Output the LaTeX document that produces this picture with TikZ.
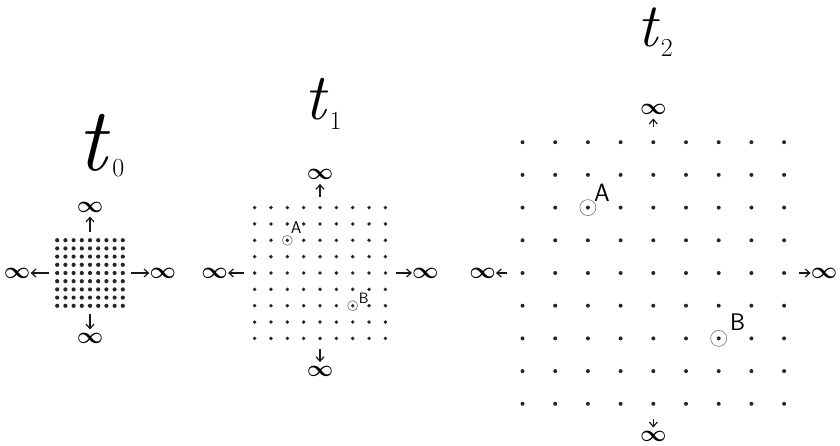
\documentclass[tikz,border=0pt]{standalone}
\usepackage{fix-cm}
\usepackage{fontspec}
\usetikzlibrary{arrows.meta}
\tikzset{%
  griddot/.style={fill=black!85},
  timelabel/.style={inner sep=0pt},
  inf/.style={inner xsep=0pt, inner ysep=4pt, font=\fontsize{23}{23}\selectfont\boldmath},
  toinf/.style={-{Straight Barb[length=4.5pt,width=8pt]}, line width=1.2pt, black!90},
  ring/.style={circle, draw=black!55, line width=0.6pt, inner sep=0pt},
  ptlabel/.style={inner sep=0pt},
}

\begin{document}
\begin{tikzpicture}[x=1pt, y=-1pt]
\useasboundingbox (0,0) rectangle (840,446);

% three 9x9 grids, spacing doubles from t0 to t2
\foreach \p/\cx/\d/\r/\lx/\ly/\fs/\ss/\rs in {0/90/8.2/2.1/101/150/90/26/9, 1/320/16.35/1.9/323/104/66/26/0, 2/653.3/32.7/2.0/655/32/62/26/0}{
  \pgfmathsetmacro{\h}{4*\d}
  \pgfmathsetmacro{\ga}{\h+6+0.07*\h}
  % time label
  \node[timelabel, font=\fontsize{\fs}{\fs}\selectfont] (lab\p) at (\lx,\ly)
    {\itshape t\kern0.06em\raisebox{-0.16em}{\raisebox{\rs pt}{\upshape\fontsize{\ss}{\ss}\selectfont\p}}};
  % points
  \foreach \i in {-4,...,4}
    \foreach \j in {-4,...,4}
      \fill[griddot] (\cx+\i*\d, 273+\j*\d) circle (\r);
  % infinity in all four directions
  \node[inf] (infN\p) at (\cx, 273-\h-33) {$\infty$};
  \node[inf] (infS\p) at (\cx, 273+\h+33) {$\infty$};
  \node[inf] (infW\p) at (\cx-\h-40, 273) {$\infty$};
  \node[inf] (infE\p) at (\cx+\h+40, 273) {$\infty$};
  \coordinate (aN\p) at (\cx, 273-\ga);
  \coordinate (aS\p) at (\cx, 273+\ga);
  \coordinate (aW\p) at (\cx-\ga, 273);
  \coordinate (aE\p) at (\cx+\ga, 273);
  \draw[toinf] (aN\p) -- (infN\p);
  \draw[toinf] (aS\p) -- (infS\p);
  \draw[toinf] (aW\p) -- (infW\p);
  \draw[toinf] (aE\p) -- (infE\p);
}

% the two marked points at t1
\node[ring, minimum size=10pt] (A1) at (320-2*16.35, 273-2*16.35) {};
\node[ring, minimum size=10pt] (B1) at (320+2*16.35, 273+2*16.35) {};
\node[ptlabel, font=\sffamily\fontsize{17}{17}\selectfont] (labA1) at ([shift={(9,-13)}]A1) {A};
\node[ptlabel, font=\sffamily\fontsize{15}{15}\selectfont] (labB1) at ([shift={(11,-7)}]B1) {B};

% the same points at t2
\node[ring, minimum size=16pt] (A2) at (653.3-2*32.7, 273-2*32.7) {};
\node[ring, minimum size=16pt] (B2) at (653.3+2*32.7, 273+2*32.7) {};
\node[ptlabel, font=\sffamily\fontsize{25}{25}\selectfont] (labA2) at ([shift={(14,-15)}]A2) {A};
\node[ptlabel, font=\sffamily\fontsize{24}{24}\selectfont] (labB2) at ([shift={(19,-16)}]B2) {B};

\end{tikzpicture}
\end{document}
